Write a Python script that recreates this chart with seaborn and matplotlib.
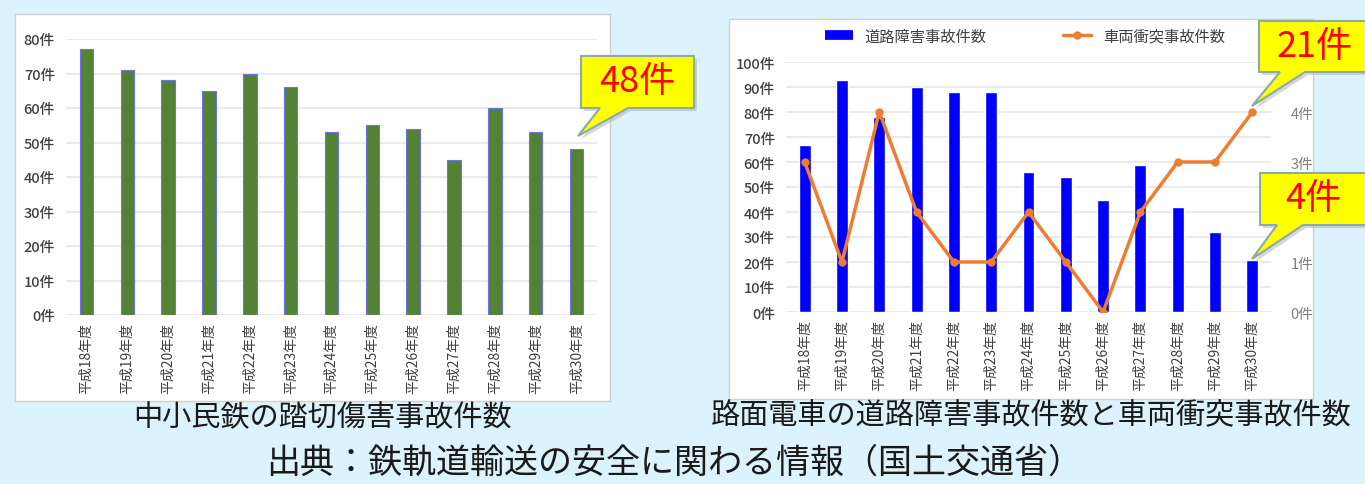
import matplotlib
matplotlib.use('Agg')
import matplotlib.pyplot as plt
import seaborn as sns
import pandas as pd
from matplotlib.patches import Rectangle, Polygon
from matplotlib.lines import Line2D

# ---------------- data ----------------
years = ['平成18年度', '平成19年度', '平成20年度', '平成21年度', '平成22年度',
         '平成23年度', '平成24年度', '平成25年度', '平成26年度', '平成27年度',
         '平成28年度', '平成29年度', '平成30年度']
crossing_accidents = [77, 71, 68, 65, 70, 66, 53, 55, 54, 45, 60, 53, 48]
road_obstruction = [67, 93, 78, 90, 88, 88, 56, 54, 45, 59, 42, 32, 21]
vehicle_collision = [3, 1, 4, 2, 1, 1, 2, 1, 0, 2, 3, 3, 4]
left_yticks = [0, 10, 20, 30, 40, 50, 60, 70, 80]
right_yticks = [0, 10, 20, 30, 40, 50, 60, 70, 80, 90, 100]
sec_yticks = [0, 1, 2, 3, 4, 5]
# 2件 and 5件 are hidden behind the callouts in the original
sec_ytick_labels = ['0件', '1件', '', '3件', '4件', '']
series_labels = ['道路障害事故件数', '車両衝突事故件数']
callout_texts = ['48件', '21件', '4件']
captions = ['中小民鉄の踏切傷害事故件数',
            '路面電車の道路障害事故件数と車両衝突事故件数',
            '出典：鉄軌道輸送の安全に関わる情報（国土交通省）']

# ---------------- style ----------------
sns.set_theme(style='white')
plt.rcParams['font.family'] = ['Noto Sans CJK JP', 'DejaVu Sans']

W, H = 1365, 485
BG = '#DCF2FC'
fig = plt.figure(figsize=(W / 100, H / 100), dpi=100)
fig.patch.set_facecolor(BG)


def fx(x):
    return x / W


def fy(y):
    return 1 - y / H


def panel(x0, y0, x1, y1):
    fig.add_artist(Rectangle((fx(x0), fy(y1)), (x1 - x0) / W, (y1 - y0) / H,
                             transform=fig.transFigure, facecolor='white',
                             edgecolor='#D0D0D0', lw=1.0, zorder=-5))


panel(15, 15, 610, 402)
panel(729, 20, 1313, 400)

df_left = pd.DataFrame({'year': years, 'count': crossing_accidents})
df_right = pd.DataFrame({'year': years, 'count': road_obstruction,
                         'idx': range(len(years)), 'coll': vehicle_collision})

tick_color = '#404040'

# ---------------- left chart ----------------
ax1 = fig.add_axes([fx(66), fy(316), 531 / W, 276 / H])
ax1.set_facecolor('white')
sns.barplot(data=df_left, x='year', y='count', color='#548235', saturation=1,
            width=0.33, edgecolor='#7070F0', linewidth=0.8, ax=ax1, zorder=3)
ax1.set_xlim(-0.5, len(years) - 0.5)
ax1.set_ylim(0, 80)
ax1.set_yticks(left_yticks)
ax1.set_yticklabels([f'{v}件' for v in left_yticks], fontsize=10.5,
                    color=tick_color, fontweight='medium')
ax1.set_xticks(range(len(years)))
ax1.set_xticklabels(years, rotation=90, fontsize=10, color=tick_color)
ax1.set_xlabel('')
ax1.set_ylabel('')
ax1.yaxis.grid(True, color='#E8E8E8', lw=1.3, zorder=0)
ax1.set_axisbelow(True)
for s in ax1.spines.values():
    s.set_visible(False)
ax1.tick_params(axis='both', length=0)
ax1.tick_params(axis='y', pad=8)
ax1.tick_params(axis='x', pad=5)

# ---------------- right chart ----------------
ax2 = fig.add_axes([fx(786), fy(313), 485 / W, 250 / H])
ax2.set_facecolor('white')
sns.barplot(data=df_right, x='year', y='count', color='#0000FF', saturation=1,
            width=0.32, ax=ax2, zorder=3)
ax2.set_xlim(-0.5, len(years) - 0.5)
ax2.set_ylim(0, 100)
ax2.set_yticks(right_yticks)
ax2.set_yticklabels([f'{v}件' for v in right_yticks], fontsize=10.5,
                    color=tick_color, fontweight='medium')
ax2.set_xticks(range(len(years)))
ax2.set_xticklabels(years, rotation=90, fontsize=10, color=tick_color)
ax2.set_xlabel('')
ax2.set_ylabel('')
ax2.yaxis.grid(True, color='#E8E8E8', lw=1.3, zorder=0)
ax2.set_axisbelow(True)
for s in ax2.spines.values():
    s.set_visible(False)
ax2.tick_params(axis='both', length=0)
ax2.tick_params(axis='y', pad=8)
ax2.tick_params(axis='x', pad=5)

ax3 = ax2.twinx()
sns.lineplot(data=df_right, x='idx', y='coll', color='#ED7D31', lw=2.5,
             marker='o', markersize=6, markeredgewidth=0, ax=ax3)
ax3.set_xlim(-0.5, len(years) - 0.5)
ax3.set_ylim(0, 5)
ax3.set_yticks(sec_yticks)
ax3.set_yticklabels(sec_ytick_labels, fontsize=10.5, color='#7F7F7F')
ax3.set_ylabel('')
ax3.set_xlabel('')
for s in ax3.spines.values():
    s.set_visible(False)
ax3.tick_params(axis='both', length=0)
ax3.tick_params(axis='y', pad=14)

handles = [Line2D([], [], color='#0000FF', lw=7, solid_capstyle='butt'),
           Line2D([], [], color='#ED7D31', lw=2.5, marker='o', markersize=5)]
fig.legend(handles, series_labels, loc='center', bbox_to_anchor=(fx(1025), fy(37)),
           ncol=2, frameon=False, fontsize=11, handlelength=1.8,
           columnspacing=5, labelcolor=tick_color)


# ---------------- callouts ----------------
def callout(box, base, tip, text, text_xy):
    x0, y0, x1, y1 = box
    bx0, bx1 = base
    pts = [(x0, y0), (x1, y0), (x1, y1), (bx1, y1), tip, (bx0, y1), (x0, y1)]
    shadow = [(fx(x + 3), fy(y + 3)) for x, y in pts]
    fig.add_artist(Polygon(shadow, closed=True, transform=fig.transFigure,
                           facecolor='#B0B0B0', edgecolor='none', alpha=0.5, zorder=9))
    fig.add_artist(Polygon([(fx(x), fy(y)) for x, y in pts], closed=True,
                           transform=fig.transFigure, facecolor='#FFFF00',
                           edgecolor='#8DA9A8', lw=1.5, zorder=10))
    fig.text(fx(text_xy[0]), fy(text_xy[1]), text, ha='center', va='center',
             fontsize=26, color='#FF0000', zorder=11)


callout((581, 57, 694, 109), (600, 628), (578, 137), callout_texts[0], (637, 82))
callout((1259, 22, 1380, 73), (1280, 1305), (1252, 107), callout_texts[1], (1315, 47))
callout((1260, 174, 1380, 226), (1277, 1303), (1252, 260), callout_texts[2], (1313, 199))

# ---------------- captions ----------------
fig.text(fx(322), fy(418), captions[0], ha='center', va='center', fontsize=21, color='#1A1A1A')
fig.text(fx(1031), fy(416), captions[1], ha='center', va='center', fontsize=21, color='#1A1A1A')
fig.text(fx(674), fy(463), captions[2], ha='center', va='center', fontsize=24.5, color='#1A1A1A')

fig.savefig('out.png', dpi=100, facecolor=BG)
